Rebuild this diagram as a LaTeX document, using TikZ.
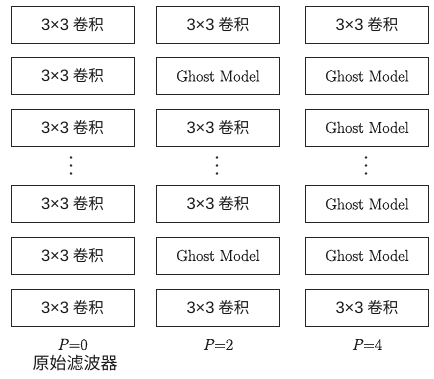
\documentclass[tikz,border=0pt]{standalone}
\usepackage{fontspec}
\newfontfamily\cjk{Noto Sans CJK SC}
\newfontfamily\digf{Liberation Sans}
\newfontfamily\ghostf{Latin Modern Roman}[FakeBold=0.35]
\newcommand{\convtxt}{{\digf\fontsize{16.5}{18}\selectfont 3×3}\hspace{0.25em}卷积}
\begin{document}
\begin{tikzpicture}[x=1pt,y=-1pt,
  blk/.style={draw=black!85, line width=0.9pt, minimum width=123pt, minimum height=37pt, inner sep=0pt, text=black!90},
  conv/.style={blk, font=\cjk\fontsize{15.5}{17}\selectfont},
  ghost/.style={blk, font=\ghostf\fontsize{16}{18}\selectfont},
  lab/.style={inner sep=0pt, font=\ghostf\fontsize{16}{18}\selectfont, text=black!90},
  cjklab/.style={inner sep=0pt, font=\cjk\fontsize{17}{19}\selectfont, text=black!90},
  dot/.style={circle, fill=black!85, inner sep=0pt, minimum size=2.6pt}]
\useasboundingbox (0,0) rectangle (434,379);
% column 1
\node[conv] (a1) at (72.5,24.5) {\convtxt};
\node[conv] (a2) at (72.5,76) {\convtxt};
\node[conv] (a3) at (72.5,127.5) {\convtxt};
\node[conv] (a5) at (72.5,204) {\convtxt};
\node[conv] (a6) at (72.5,255.5) {\convtxt};
\node[conv] (a7) at (72.5,307.5) {\convtxt};
% column 2
\node[conv]  (b1) at (218,24.5) {\convtxt};
\node[ghost] (b2) at (218,76) {Ghost Model};
\node[conv]  (b3) at (218,127.5) {\convtxt};
\node[conv]  (b5) at (218,204) {\convtxt};
\node[ghost] (b6) at (218,255.5) {Ghost Model};
\node[conv]  (b7) at (218,307.5) {\convtxt};
% column 3
\node[conv]  (c1) at (367,24.5) {\convtxt};
\node[ghost] (c2) at (367,76) {Ghost Model};
\node[ghost] (c3) at (367,127.5) {Ghost Model};
\node[ghost] (c5) at (367,204) {Ghost Model};
\node[ghost] (c6) at (367,255.5) {Ghost Model};
\node[conv]  (c7) at (367,307.5) {\convtxt};
% dots
\foreach \x/\n in {71/a,217/b,366/c}{
  \node[dot] (\n d1) at (\x,157.5) {};
  \node[dot] (\n d2) at (\x,165.5) {};
  \node[dot] (\n d3) at (\x,173.5) {};
}
% labels
\node[lab] (pa) at (72.5,344.5) {\textit{P}=0};
\node[cjklab] (oa) at (75,363) {原始滤波器};
\node[lab] (pb) at (218,344.5) {\textit{P}=2};
\node[lab] (pc) at (367,344.5) {\textit{P}=4};
\end{tikzpicture}
\end{document}
